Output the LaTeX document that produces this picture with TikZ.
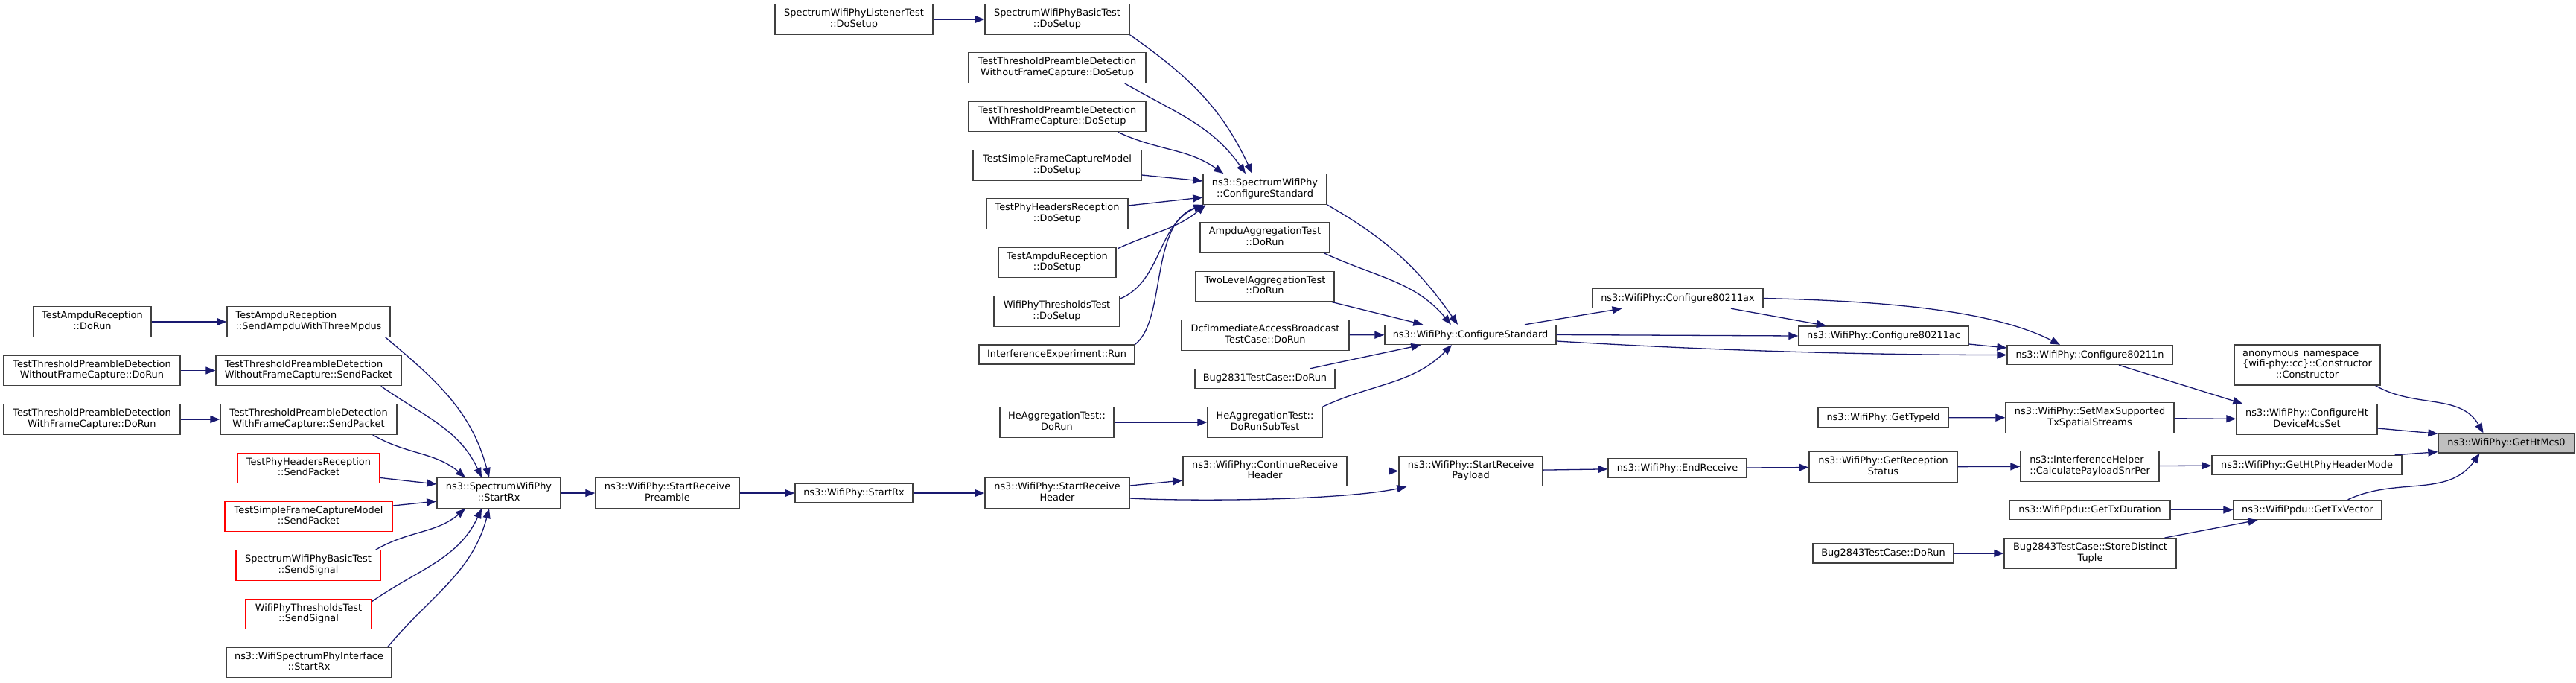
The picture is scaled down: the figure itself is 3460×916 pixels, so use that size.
\documentclass[tikz,border=0pt]{standalone}
\usepackage{fontspec}
\setmainfont{DejaVu Sans}
\usetikzlibrary{arrows.meta}

\definecolor{edgeblue}{HTML}{191970}
\definecolor{boxgray}{HTML}{404040}
\definecolor{rootfill}{HTML}{BFBFBF}

% dot labels: upper lines left, last line centred
\newcommand{\ltwo}[2]{\begin{tabular}{@{}l@{}}#1\\\multicolumn{1}{@{}c@{}}{#2}\end{tabular}}
\newcommand{\lthree}[3]{\begin{tabular}{@{}l@{}}#1\\#2\\\multicolumn{1}{@{}c@{}}{#3}\end{tabular}}

\tikzset{
  fn/.style={draw=boxgray, line width=1.4pt, fill=white, inner sep=0pt,
    minimum height=26pt, font=\fontsize{12.9}{14.7}\selectfont},
  fn2/.style={fn, minimum height=40.5pt},
  fnred/.style={fn2, draw=red},
  fnroot/.style={fn, fill=rootfill},
  call/.style={draw=edgeblue, line width=1.3pt, -{Triangle[length=13pt,width=10pt]}},
}

\begin{document}
\begin{tikzpicture}[x=1pt, y=-1pt]
    \useasboundingbox (0,0) rectangle (3460,916);

    % Receive chain, left part
    \node[fn2, minimum width=158pt] (ampduRun) at (124,432) {\ltwo{TestAmpduReception}{::DoRun}};
    \node[fn2, minimum width=237pt] (woRun) at (123.5,497.5) {\ltwo{TestThresholdPreambleDetection}{WithoutFrameCapture::DoRun}};
    \node[fn2, minimum width=237pt] (wRun) at (123.5,563) {\ltwo{TestThresholdPreambleDetection}{WithFrameCapture::DoRun}};
    \node[fn2, minimum width=219pt] (sendAmpdu) at (414.5,432) {\ltwo{TestAmpduReception}{::SendAmpduWithThreeMpdus}};
    \node[fn2, minimum width=249pt] (woSend) at (414.5,497.5) {\ltwo{TestThresholdPreambleDetection}{WithoutFrameCapture::SendPacket}};
    \node[fn2, minimum width=237pt] (wSend) at (414.5,563) {\ltwo{TestThresholdPreambleDetection}{WithFrameCapture::SendPacket}};
    \node[fnred, minimum width=191pt] (phySend) at (414.5,628.5) {\ltwo{TestPhyHeadersReception}{::SendPacket}};
    \node[fnred, minimum width=225pt] (sfcSend) at (414.5,693.5) {\ltwo{TestSimpleFrameCaptureModel}{::SendPacket}};
    \node[fnred, minimum width=194pt] (basicSig) at (414,759) {\ltwo{SpectrumWifiPhyBasicTest}{::SendSignal}};
    \node[fnred, minimum width=169pt] (thrSig) at (414.5,824.5) {\ltwo{WifiPhyThresholdsTest}{::SendSignal}};
    \node[fn2, minimum width=222pt] (ifaceRx) at (415,889.5) {\ltwo{ns3::WifiSpectrumPhyInterface}{::StartRx}};
    \node[fn2, minimum width=166pt] (spStartRx) at (670,662) {\ltwo{ns3::SpectrumWifiPhy}{::StartRx}};
    \node[fn2, minimum width=193pt] (preamble) at (896.5,662) {\ltwo{ns3::WifiPhy::StartReceive}{Preamble}};
    \node[fn, minimum width=158pt] (wpStartRx) at (1147,662) {ns3::WifiPhy::StartRx};

    % Setup callers
    \node[fn2, minimum width=212pt] (listener) at (1147,26) {\ltwo{SpectrumWifiPhyListenerTest}{::DoSetup}};
    \node[fn2, minimum width=194pt] (basicSetup) at (1420,26) {\ltwo{SpectrumWifiPhyBasicTest}{::DoSetup}};
    \node[fn2, minimum width=238pt] (woSetup) at (1420,91) {\ltwo{TestThresholdPreambleDetection}{WithoutFrameCapture::DoSetup}};
    \node[fn2, minimum width=238pt] (wSetup) at (1420,156.5) {\ltwo{TestThresholdPreambleDetection}{WithFrameCapture::DoSetup}};
    \node[fn2, minimum width=226pt] (sfcSetup) at (1420,222) {\ltwo{TestSimpleFrameCaptureModel}{::DoSetup}};
    \node[fn2, minimum width=190pt] (phySetup) at (1420,287) {\ltwo{TestPhyHeadersReception}{::DoSetup}};
    \node[fn2, minimum width=158pt] (ampduSetup) at (1420,352.5) {\ltwo{TestAmpduReception}{::DoSetup}};
    \node[fn2, minimum width=169pt] (thrSetup) at (1419.5,418) {\ltwo{WifiPhyThresholdsTest}{::DoSetup}};
    \node[fn, minimum width=209pt] (interf) at (1419.5,476) {InterferenceExperiment::Run};
    \node[fn2, minimum width=153pt] (heRun) at (1419.5,567) {\ltwo{HeAggregationTest::}{DoRun}};
    \node[fn2, minimum width=194pt] (header) at (1420,662) {\ltwo{ns3::WifiPhy::StartReceive}{Header}};

    \node[fn2, minimum width=166pt] (spConf) at (1699,254) {\ltwo{ns3::SpectrumWifiPhy}{::ConfigureStandard}};
    \node[fn2, minimum width=174pt] (ampduAgg) at (1699,319) {\ltwo{AmpduAggregationTest}{::DoRun}};
    \node[fn2, minimum width=186pt] (twoLevel) at (1699,384.5) {\ltwo{TwoLevelAggregationTest}{::DoRun}};
    \node[fn2, minimum width=225pt] (dcf) at (1699.5,450) {\ltwo{DcfImmediateAccessBroadcast}{TestCase::DoRun}};
    \node[fn, minimum width=188pt] (bug2831) at (1699,508.5) {Bug2831TestCase::DoRun};
    \node[fn2, minimum width=154pt] (heSub) at (1699,567) {\ltwo{HeAggregationTest::}{DoRunSubTest}};
    \node[fn2, minimum width=220pt] (contHeader) at (1699,632.5) {\ltwo{ns3::WifiPhy::ContinueReceive}{Header}};

    % Right part
    \node[fn, minimum width=230pt] (wpConf) at (1975,449.5) {ns3::WifiPhy::ConfigureStandard};
    \node[fn2, minimum width=193pt] (payload) at (1975.5,632.5) {\ltwo{ns3::WifiPhy::StartReceive}{Payload}};
    \node[fn, minimum width=229pt] (c11ax) at (2253.5,400.5) {ns3::WifiPhy::Configure80211ax};
    \node[fn, minimum width=186pt] (endRecv) at (2253,628.5) {ns3::WifiPhy::EndReceive};
    \node[fn, minimum width=228pt] (c11ac) at (2530,451) {ns3::WifiPhy::Configure80211ac};
    \node[fn, minimum width=175pt] (typeId) at (2529.5,560.5) {ns3::WifiPhy::GetTypeId};
    \node[fn2, minimum width=199pt] (recStatus) at (2529.5,627) {\ltwo{ns3::WifiPhy::GetReception}{Status}};
    \node[fn, minimum width=189pt] (bug2843) at (2529.5,743) {Bug2843TestCase::DoRun};
    \node[fn, minimum width=222pt] (c11n) at (2807,476.5) {ns3::WifiPhy::Configure80211n};
    \node[fn2, minimum width=226pt] (maxSS) at (2807,561) {\ltwo{ns3::WifiPhy::SetMaxSupported}{TxSpatialStreams}};
    \node[fn2, minimum width=186pt] (snrPer) at (2807,626) {\ltwo{ns3::InterferenceHelper}{::CalculatePayloadSnrPer}};
    \node[fn, minimum width=216pt] (txDur) at (2807,684.5) {ns3::WifiPpdu::GetTxDuration};
    \node[fn2, minimum width=231pt] (storeTuple) at (2807.5,743) {\ltwo{Bug2843TestCase::StoreDistinct}{Tuple}};
    \node[fn, minimum width=196pt, minimum height=54pt] (anon) at (3099,490) {\lthree{anonymous\_namespace}{\{wifi-phy::cc\}::Constructor}{::Constructor}};
    \node[fn2, minimum width=189pt] (htMcsSet) at (3098.5,563) {\ltwo{ns3::WifiPhy::ConfigureHt}{DeviceMcsSet}};
    \node[fn, minimum width=255pt] (phyHdrMode) at (3098.5,624.5) {ns3::WifiPhy::GetHtPhyHeaderMode};
    \node[fn, minimum width=199pt] (txVector) at (3099.5,684.5) {ns3::WifiPpdu::GetTxVector};
    \node[fnroot, minimum width=183pt] (htMcs0) at (3366.5,595) {ns3::WifiPhy::GetHtMcs0};

    % Calls into SpectrumWifiPhy::StartRx
    \draw[call] (ampduRun) -- (sendAmpdu);
    \draw[call] (woRun) -- (woSend);
    \draw[call] (wRun) -- (wSend);
    \draw[call] ([xshift=-7pt]sendAmpdu.south east) to[out=-40, in=105] ([xshift=-13pt]spStartRx.north);
    \draw[call] ([xshift=-28pt]woSend.south east) to[out=-35, in=115] ([xshift=-23pt]spStartRx.north);
    \draw[call] ([xshift=-33pt]wSend.south east) to[out=-30, in=140] ([xshift=-45pt]spStartRx.north);
    \draw[call] ([yshift=8pt]phySend.south east) -- ([yshift=12pt]spStartRx.west);
    \draw[call] ([yshift=14.5pt]sfcSend.east) -- ([yshift=-11pt]spStartRx.west);
    \draw[call] ([xshift=-7pt]basicSig.north east) to[out=30, in=-140] ([xshift=-45pt]spStartRx.south);
    \draw[call] ([yshift=-4pt]thrSig.north east) to[out=35, in=-115] ([xshift=-23pt]spStartRx.south);
    \draw[call] ([xshift=-6pt]ifaceRx.north east) to[out=50, in=-105] ([xshift=-13pt]spStartRx.south);
    \draw[call] (spStartRx) -- (preamble);
    \draw[call] (preamble) -- (wpStartRx);
    \draw[call] (wpStartRx) -- (header);

    % Receive chain up to the root
    \draw[call] ([yshift=10pt]header.east) -- ([yshift=-12.5pt]contHeader.west);
    \draw[call] ([yshift=-7pt]header.east) to[out=-3, in=-168, looseness=0.6] ([xshift=11pt]payload.south west);
    \draw[call] (contHeader) -- (payload);
    \draw[call] (payload) -- (endRecv);
    \draw[call] (endRecv) -- (recStatus);
    \draw[call] (recStatus) -- (snrPer);
    \draw[call] (snrPer) -- (phyHdrMode);
    \draw[call] ([xshift=-10pt]phyHdrMode.north east) -- ([yshift=2pt]htMcs0.south west);

    % Setup calls into SpectrumWifiPhy::ConfigureStandard
    \draw[call] (listener) -- (basicSetup);
    \draw[call] (basicSetup.south east) to[out=-35, in=115] ([xshift=-17pt]spConf.north);
    \draw[call] ([xshift=-29pt]woSetup.south east) to[out=-30, in=125] ([xshift=-26pt]spConf.north);
    \draw[call] ([xshift=-38pt]wSetup.south east) to[out=-25, in=145] ([xshift=28pt]spConf.north west);
    \draw[call] ([yshift=-13pt]sfcSetup.east) -- ([yshift=11pt]spConf.west);
    \draw[call] ([yshift=11pt]phySetup.east) -- ([yshift=-11pt]spConf.west);
    \draw[call] ([xshift=2pt, yshift=-2pt]ampduSetup.north east) to[out=25, in=-140] ([xshift=4pt]spConf.south west);
    \draw[call] ([yshift=-4pt]thrSetup.north east) .. controls +(56,-24) and +(-62,26) .. ([xshift=1pt]spConf.south west);
    \draw[call] (interf.north east) .. controls +(42,-33) and +(-72,26) .. ([xshift=1pt]spConf.south west);

    % Calls into WifiPhy::ConfigureStandard
    \draw[call] (spConf.south east) to[out=-30, in=125] ([xshift=-17pt]wpConf.north);
    \draw[call] ([xshift=-8pt]ampduAgg.south east) to[out=-25, in=130] ([xshift=-26pt]wpConf.north);
    \draw[call] ([xshift=-4pt]twoLevel.south east) -- ([xshift=52pt]wpConf.north west);
    \draw[call] (dcf) -- (wpConf);
    \draw[call] ([xshift=-34pt]bug2831.north east) -- ([xshift=49pt]wpConf.south west);
    \draw[call] (heRun) -- (heSub);
    \draw[call] (heSub.north east) to[out=25, in=-135] ([xshift=-25pt]wpConf.south);

    % Standard configuration
    \draw[call] ([xshift=73pt]wpConf.north) -- ([xshift=-75pt]c11ax.south);
    \draw[call] (wpConf.east) -- (c11ac.west);
    \draw[call] ([yshift=-8.5pt]wpConf.east) .. controls +(200,12) and +(-200,0) .. (c11n.west);
    \draw[call] ([xshift=71.5pt]c11ax.south) -- ([xshift=-77pt]c11ac.north);
    \draw[call] (c11ax.east) .. controls +(180,4) and +(-87,-44) .. ([xshift=-40pt]c11n.north);
    \draw[call] ([yshift=-11pt]c11ac.east) -- ([yshift=9.5pt]c11n.west);
    \draw[call] ([xshift=39pt]c11n.south) -- ([xshift=9pt]htMcsSet.north west);
    \draw[call] (typeId) -- (maxSS);
    \draw[call] (maxSS) -- (htMcsSet);

    % Into the root
    \draw[call] ([xshift=-7pt]anon.south east) to[out=-30, in=120] ([xshift=-31pt]htMcs0.north);
    \draw[call] ([yshift=-12pt]htMcsSet.east) -- ([yshift=-1pt]htMcs0.north west);
    \draw[call] ([xshift=54pt]txVector.north) to[out=25, in=-125] ([xshift=-36pt]htMcs0.south);
    \draw[call] (txDur) -- (txVector);
    \draw[call] (bug2843) -- (storeTuple);
    \draw[call] ([xshift=100pt]storeTuple.north) -- ([xshift=-67pt]txVector.south);
\end{tikzpicture}
\end{document}
